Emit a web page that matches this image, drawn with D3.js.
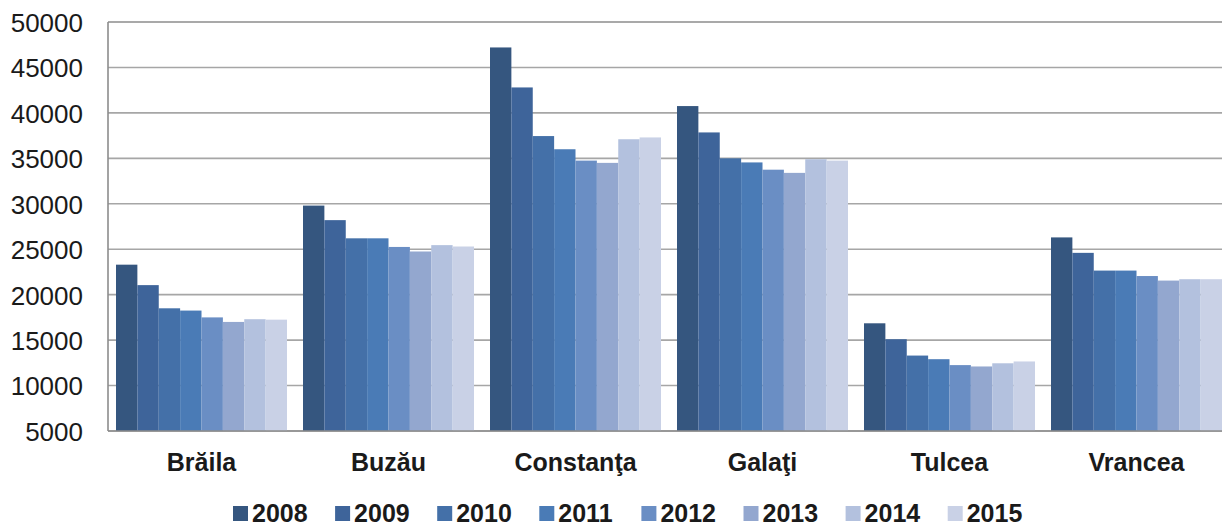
<!DOCTYPE html>
<html>
<head>
<meta charset="utf-8">
<script src="https://cdn.jsdelivr.net/npm/d3@7"></script>
<style>
  body { margin: 0; background: #fff; }
  svg { display: block; font-family: Arial, "Liberation Sans", sans-serif; }
</style>
</head>
<body>
<div id="box"></div>
<script>

var w = 1222,
    h = 528;

var counties = ["Brăila", "Buzău", "Constanţa", "Galaţi", "Tulcea", "Vrancea"];
var years = ["2008", "2009", "2010", "2011", "2012", "2013", "2014", "2015"];

// one array per year, values in county order
var v2008 = [23300, 29800, 47200, 40750, 16850, 26300];
var v2009 = [21050, 28200, 42800, 37850, 15100, 24600];
var v2010 = [18500, 26200, 37450, 35000, 13300, 22650];
var v2011 = [18250, 26200, 36000, 34550, 12900, 22650];
var v2012 = [17500, 25250, 34750, 33750, 12250, 22050];
var v2013 = [17000, 24750, 34500, 33400, 12100, 21550];
var v2014 = [17300, 25450, 37100, 34900, 12450, 21700];
var v2015 = [17250, 25300, 37300, 34750, 12650, 21700];

var yTicks = [5000, 10000, 15000, 20000, 25000, 30000, 35000, 40000, 45000, 50000];
var colors = ["#35567f", "#3e649a", "#4470a8", "#4a7bb6", "#6a8ec4", "#93a7cf", "#b3c1de", "#c9d1e6"];

var series = [v2008, v2009, v2010, v2011, v2012, v2013, v2014, v2015];

var mLeft = 108, mTop = 22, mBottom = 431, mRight = 108 + 6 * 187;

var svg = d3.select("#box")
            .append("svg")
            .attr("width", w)
            .attr("height", h);

var x0 = d3.scaleBand()
           .domain(counties)
           .range([mLeft, mRight])
           .paddingInner(16 / 187)
           .paddingOuter(8 / 187);

var x1 = d3.scaleBand()
           .domain(years)
           .range([0, x0.bandwidth()]);

var y = d3.scaleLinear()
          .domain([5000, 50000])
          .range([mBottom, mTop]);

// gridlines
svg.append("g")
   .selectAll("line")
   .data(yTicks)
   .enter()
   .append("line")
   .attr("x1", mLeft)
   .attr("x2", w)
   .attr("y1", function(d) { return y(d); })
   .attr("y2", function(d) { return y(d); })
   .attr("stroke", function(d) { return d === 50000 ? "#8c8c8c" : "#a6a6a6"; })
   .attr("stroke-width", 1.6);

// bars
var groups = svg.append("g")
   .selectAll("g")
   .data(series)
   .enter()
   .append("g")
   .attr("fill", function(d, i) { return colors[i]; });

groups.selectAll("rect")
   .data(function(d, i) {
     return d.map(function(v, j) { return { county: counties[j], year: years[i], value: v }; });
   })
   .enter()
   .append("rect")
   .attr("x", function(d) { return x0(d.county) + x1(d.year); })
   .attr("width", x1.bandwidth())
   .attr("y", function(d) { return y(d.value); })
   .attr("height", function(d) { return mBottom - y(d.value); });

// axes lines
svg.append("line")
   .attr("x1", mLeft).attr("x2", mLeft)
   .attr("y1", mTop).attr("y2", mBottom)
   .attr("stroke", "#8c8c8c").attr("stroke-width", 1.6);
svg.append("line")
   .attr("x1", mLeft).attr("x2", w)
   .attr("y1", mBottom).attr("y2", mBottom)
   .attr("stroke", "#8c8c8c").attr("stroke-width", 1.6);

// y labels
var yAxis = d3.axisLeft(y).tickValues(yTicks).tickFormat(d3.format("d")).tickSize(0).tickPadding(0);
var ya = svg.append("g")
   .attr("transform", "translate(83,0)")
   .call(yAxis);
ya.select(".domain").remove();
ya.selectAll("text")
  .attr("font-size", "26px")
  .attr("font-family", "Arial, 'Liberation Sans', sans-serif")
  .attr("fill", "#1a1a1a")
  .attr("dy", "0.36em");

// category labels
var xAxis = d3.axisBottom(x0).tickSize(0).tickPadding(0);
var xa = svg.append("g")
   .attr("transform", "translate(0," + mBottom + ")")
   .call(xAxis);
xa.select(".domain").remove();
xa.selectAll("text")
  .attr("font-size", "25px")
  .attr("font-weight", "bold")
  .attr("font-family", "Arial, 'Liberation Sans', sans-serif")
  .attr("fill", "#1a1a1a")
  .attr("y", 40)
  .attr("dy", 0);

// legend
var legend = svg.append("g")
   .selectAll("g")
   .data(years)
   .enter()
   .append("g")
   .attr("transform", function(d, i) { return "translate(" + (233 + i * 102.1) + ",0)"; });

legend.append("rect")
   .attr("x", 0)
   .attr("y", 506)
   .attr("width", 15)
   .attr("height", 15)
   .attr("fill", function(d, i) { return colors[i]; });

legend.append("text")
   .text(function(d) { return d; })
   .attr("x", 19)
   .attr("y", 522)
   .attr("font-size", "25px")
   .attr("font-weight", "bold")
   .attr("fill", "#1a1a1a");

</script>
</body>
</html>
